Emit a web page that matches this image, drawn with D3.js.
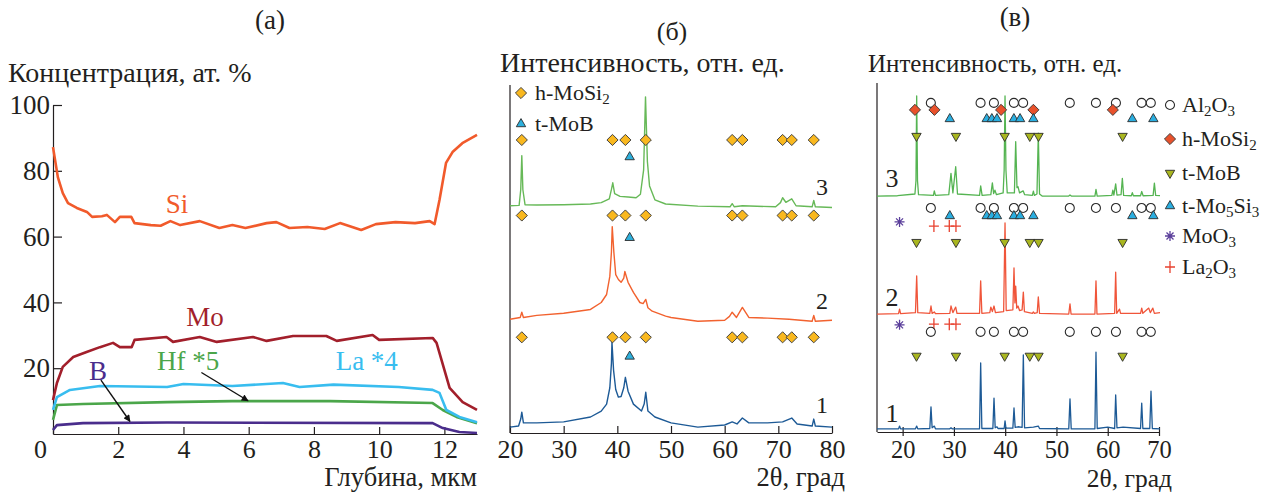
<!DOCTYPE html>
<html>
<head>
<meta charset="utf-8">
<script src="https://cdn.jsdelivr.net/npm/d3@7"></script>
<style>
  body { margin: 0; background: #fff; }
  text { font-family: "Liberation Serif", "Times New Roman", serif; fill: #231f20; }
</style>
</head>
<body>
<div id="chart"></div>
<script>
// ---- data: (а) depth profiles, [depth µm, at.%]
const profileSi = [[0,87.2],[0.15,78],[0.3,73.2],[0.46,70.2],[0.73,68.7],[1.04,67.5],[1.2,66],[1.5,66.2],[1.65,66.6],[1.9,64.4],[2.05,66],[2.4,66],[2.5,64.1],[3.0,63.5],[3.3,63.3],[3.6,64.7],[3.9,63.5],[4.5,64.7],[5.1,62.6],[5.5,63.5],[5.9,62.6],[6.55,64.1],[6.85,64.4],[7.25,62.6],[7.8,62.9],[8.33,62.3],[8.8,64.1],[9.45,62],[9.9,63.8],[10.5,64.4],[11.1,64.1],[11.55,64.7],[11.7,63.8],[11.85,71.1],[12.05,82.4],[12.25,85.7],[12.55,88.4],[13,90.9]];
const profileMo = [[0,10.3],[0.12,15.5],[0.3,20.4],[0.62,23.4],[1.03,24.9],[1.44,26.4],[1.84,27.7],[2.05,26.4],[2.41,26.4],[2.5,28.6],[3.48,29.5],[3.68,28],[4.5,29.5],[5.02,28],[6.13,29.5],[6.55,28.3],[7.36,29.8],[8.38,29.8],[8.7,28.3],[9.8,30.1],[10.0,28.6],[11.64,29.2],[11.76,27.7],[12.0,19.5],[12.16,14],[12.56,9.7],[13,7.3]];
const profileLa = [[0,7.3],[0.12,11.2],[0.52,13.4],[1.44,14.6],[3.5,14.3],[4.0,15.2],[5.5,14.6],[7.05,15.5],[7.56,14.3],[8.6,15],[10.6,14.3],[11.64,13.4],[11.85,12.5],[12.06,7.3],[12.46,5.2],[13,3.6]];
const profileHf = [[0,4.3],[0.12,8.8],[0.92,9.1],[3.5,9.7],[5.5,10.0],[8.5,10.0],[11.64,9.4],[11.95,7.3],[12.37,5.2],[13,3.3]];
const profileB = [[0,1.2],[0.12,2.7],[0.92,3.3],[3.5,3.5],[11.64,3.3],[11.95,1.8],[12.46,0.6],[13,0.3]];

// ---- data: (б) XRD patterns, [2θ, rel. units]
const xrdB1 = [[20,1.7],[21.6,2.0],[22.0,4.0],[22.2,6.0],[22.5,2.9],[25,2.9],[30,3.2],[35,4.6],[37,6.3],[38,8.3],[38.6,13],[38.9,20],[39.0,26.1],[39.3,18],[39.7,12.5],[40.2,10.3],[40.7,10.5],[41.2,13],[41.5,16],[42,12],[43,8.3],[44.5,6.3],[45.0,8.3],[45.3,11.7],[45.7,6.3],[47,4.6],[50,2.9],[55,1.7],[60,2.3],[61.4,3.2],[62.3,2.6],[63.3,4.3],[64.5,2.9],[68,2.9],[70.8,3.2],[72.5,4.3],[73.5,2.6],[76.3,2.0],[76.6,4.0],[76.9,2.0],[80,1.7]];
const xrdB2 = [[20,32.7],[21.9,33.2],[22.2,34.7],[22.5,33.2],[25,33.8],[30,34.4],[35,35.5],[37,37.5],[38,39.8],[38.6,45],[38.9,52],[39.05,59.3],[39.35,52],[39.7,45.5],[40.2,44.1],[40.7,43.3],[41.2,44.5],[41.4,46.4],[42,43.3],[43,40.4],[44.2,37.5],[44.8,37.2],[45.3,38.4],[45.7,36],[46.5,35],[49,33.6],[50,33.2],[55,32.1],[60,32.4],[60.9,33.5],[61.4,34.7],[62.2,33.2],[63.3,36.1],[64.5,33.2],[68,33.0],[72,32.7],[76.3,32.1],[76.6,33.8],[76.9,32.1],[80,32.4]];
const xrdB3 = [[20,65.3],[21.7,65.4],[22.0,69.9],[22.2,79.7],[22.4,69.9],[22.8,65.6],[25,65.5],[30,65.6],[35,65.8],[37,66.2],[38.5,67.3],[38.9,70.0],[39.15,71.9],[39.5,68.8],[40.5,68.0],[42,67.8],[43.5,67.6],[44.3,68.6],[44.9,75.6],[45.25,96.6],[45.6,78],[46.0,71],[47,67],[49,65.8],[55,65.2],[61.0,65.0],[61.4,65.9],[61.8,65.0],[63.3,65.3],[69.5,65.0],[70.4,66.2],[70.8,67.6],[71.4,66.3],[72.5,67.3],[73.3,65.3],[76.3,65.0],[76.6,66.8],[76.9,65.0],[80,64.8]];
const peaksB_MoSi2 = [22.2, 39.1, 41.5, 45.3, 61.4, 63.3, 70.8, 72.5, 76.6];
const peaksB_MoB = [42.3];

// ---- data: (в) XRD patterns, [2θ, rel. units]
const xrdV1 = [[15,0.9],[19.2,0.9],[19.4,1.7],[19.6,0.9],[22.5,0.9],[22.74,1.7],[22.95,0.9],[25.3,1],[25.53,7.2],[25.75,1.2],[26.18,1.7],[26.4,0.9],[29.2,0.9],[29.43,1.2],[29.7,0.9],[35.0,0.9],[35.22,19.8],[35.45,1.0],[37.6,1.0],[37.82,9.7],[38.05,1.2],[38.4,1.5],[38.6,1],[39.8,1],[39.97,3.2],[40.15,1.1],[41.5,1.1],[41.72,6.9],[41.95,1.3],[42.5,1.5],[43.3,1.3],[43.54,22.1],[43.78,1.2],[45.5,1.4],[46.46,1.7],[46.7,1],[52.4,0.9],[52.64,9.5],[52.88,0.9],[57.5,0.9],[57.71,22.9],[57.95,1.0],[60.0,1.4],[61.35,1.0],[61.55,10.6],[61.8,1.2],[63.0,1.4],[66.4,1.0],[66.63,8.3],[66.85,1.0],[68.2,1.0],[68.44,11.7],[68.7,1.0],[70.2,0.9]];
const xrdV2 = [[15,33.8],[19.2,33.9],[19.4,35.2],[19.6,33.9],[22.5,34.2],[22.74,44.7],[22.95,34.2],[25.3,34],[25.53,36.1],[25.75,34],[26.18,34.4],[26.4,33.9],[29.2,34],[29.43,36.1],[29.8,34.2],[30.35,35.8],[30.6,34],[35.0,34],[35.22,43.3],[35.45,34],[37.0,34.2],[37.2,35.8],[37.5,34.5],[37.82,36.1],[38.1,34.2],[39.7,34.5],[39.97,59.9],[40.2,34.8],[41.5,35],[41.72,47.0],[41.9,37],[42.05,41.8],[42.25,35.5],[42.5,36.1],[42.8,34.8],[43.3,35],[43.54,40.1],[43.75,34.5],[45.3,34],[45.5,34.4],[45.7,34],[46.25,34.2],[46.46,38.7],[46.7,34],[52.4,33.8],[52.64,36.7],[52.85,33.8],[57.5,33.8],[57.71,43.3],[57.9,33.8],[61.35,34],[61.55,45.8],[61.75,34],[62.3,35.2],[62.5,34],[66.4,34],[66.63,35.5],[66.85,34],[68.0,35.5],[68.3,34.2],[68.8,35.5],[69.1,34],[70.2,34.2]];
const xrdV3 = [[15,67.6],[19,67.7],[22.4,68.2],[22.6,72],[22.74,96.3],[22.9,72],[23.1,68],[26.0,67.8],[26.18,69.1],[26.4,67.8],[29.0,68],[29.43,74.1],[29.8,68.5],[30.35,76.0],[30.7,68.2],[35.0,67.8],[35.22,70.5],[35.5,67.8],[37.2,68],[37.5,71.4],[37.75,68.3],[38.0,69.3],[38.3,68],[39.6,68.5],[39.8,75],[39.97,96.3],[40.15,75],[40.4,68.5],[41.8,68.5],[42.05,83.2],[42.3,70],[42.5,70.3],[42.8,68.5],[43.5,69.1],[43.8,68],[45.3,67.8],[45.5,69],[45.7,67.8],[46.2,68.2],[46.46,85.6],[46.7,68.2],[47.2,67.6],[52.4,67.6],[52.64,67.9],[52.9,67.6],[57.5,67.6],[57.71,69.5],[57.95,67.6],[60.8,67.8],[61.0,69.3],[61.2,67.9],[61.55,71.1],[61.8,67.9],[62.6,68],[62.85,72.7],[63.1,67.8],[64.6,67.7],[64.8,68.6],[65,67.7],[66.4,67.7],[66.63,68.9],[66.9,67.7],[68.85,67.8],[69.1,71.3],[69.35,67.8],[70.2,67.7]];
const peaksV_Al2O3 = [25.5, 35.2, 37.8, 41.7, 43.5, 52.6, 57.7, 61.6, 66.6, 68.4];
const peaksV_MoSi2 = [22.4, 26.2, 39.2, 45.5, 61.0];
const peaksV_Mo5Si3 = [29.2, 36.4, 37.4, 38.4, 41.7, 42.9, 45.5, 64.8, 68.9];
const peaksV_MoB = [22.7, 30.4, 39.9, 44.8, 46.5, 62.9];
const peaksV_MoO3 = [19.4];
const peaksV_La2O3 = [26.1, 29.1, 30.4];

const svg = d3.select("#chart").append("svg")
    .attr("width", 1271)
    .attr("height", 494);

// marker shapes
const diamond = d3.symbol(d3.symbolSquare, 62)();
const triUp = d3.symbol(d3.symbolTriangle, 38)();
const circle = d3.symbol(d3.symbolCircle, 64)();
const plus = "M-5,0H5M0,-6V6";
const star = "M-5,0H5M0,-5V5M-3.5,-3.5L3.5,3.5M-3.5,3.5L3.5,-3.5";

function drawMarkers(g, xs, x, yPix, kind) {
    const sel = g.append("g").selectAll("path").data(xs).enter().append("path");
    sel.attr("transform", d => "translate(" + x(d) + "," + yPix + ")" + kind.rot);
    sel.attr("d", kind.d)
        .attr("fill", kind.fill)
        .attr("stroke", kind.stroke)
        .attr("stroke-width", kind.sw);
}

function styleAxis(g, size) {
    g.selectAll("text").attr("font-size", size).style("fill", "#231f20");
    g.selectAll("line, path").attr("stroke", "#231f20").attr("stroke-width", 1.2);
    g.attr("font-family", null);
}

// ================= panel (а) =================
const xA = d3.scaleLinear().domain([0, 13]).range([53, 477]);
const yA = d3.scaleLinear().domain([0, 100]).range([434, 105]);

const gAy = svg.append("g").attr("transform", "translate(" + xA(0) + ",0)")
    .call(d3.axisLeft(yA).tickValues([20, 40, 60, 80, 100]).tickSizeInner(-9).tickSizeOuter(0).tickPadding(3));
styleAxis(gAy, 27);
const gAx = svg.append("g").attr("transform", "translate(0," + yA(0) + ")")
    .call(d3.axisBottom(xA).tickValues([0, 2, 4, 6, 8, 10, 12]).tickSizeInner(-7).tickSizeOuter(0).tickPadding(6));
styleAxis(gAx, 26);
gAx.selectAll(".tick text").filter(d => d === 0).attr("x", -13);

const lineA = d3.line().x(d => xA(d[0])).y(d => yA(d[1]));
const profiles = [
    {data: profileB, color: "#4a2d8c"},
    {data: profileHf, color: "#4ba64a"},
    {data: profileLa, color: "#38bdef"},
    {data: profileMo, color: "#a21f2b"},
    {data: profileSi, color: "#f15a2b"}
];
profiles.forEach(p => {
    svg.append("path").datum(p.data)
        .attr("d", lineA)
        .attr("fill", "none")
        .attr("stroke", p.color)
        .attr("stroke-width", 2.6)
        .attr("stroke-linejoin", "round");
});

// curve labels
const labelsA = [
    {t: "Si", x: 3.8, y: 67.2, c: "#f15a2b"},
    {t: "Mo", x: 4.66, y: 32.8, c: "#a21f2b"},
    {t: "Hf *5", x: 4.14, y: 19.5, c: "#4ba64a"},
    {t: "La *4", x: 9.62, y: 19.5, c: "#38bdef"},
    {t: "B", x: 1.38, y: 16.4, c: "#4a2d8c"}
];
svg.selectAll(".labA").data(labelsA).enter().append("text")
    .attr("x", d => xA(d.x)).attr("y", d => yA(d.y))
    .attr("text-anchor", "middle")
    .attr("font-size", 27)
    .style("fill", d => d.c)
    .text(d => d.t);

svg.append("defs").append("marker")
    .attr("id", "arr").attr("viewBox", "0 0 10 10")
    .attr("refX", 9).attr("refY", 5)
    .attr("markerWidth", 9).attr("markerHeight", 7)
    .attr("markerUnits", "userSpaceOnUse")
    .attr("orient", "auto")
    .append("path").attr("d", "M0,0L10,5L0,10z").attr("fill", "#111");
const arrows = [[[1.47, 16.4], [2.36, 3.8]], [[4.55, 18.7], [5.98, 10.1]]];
arrows.forEach(a => {
    svg.append("line")
        .attr("x1", xA(a[0][0])).attr("y1", yA(a[0][1]))
        .attr("x2", xA(a[1][0])).attr("y2", yA(a[1][1]))
        .attr("stroke", "#111").attr("stroke-width", 1.4)
        .attr("marker-end", "url(#arr)");
});

svg.append("text").attr("x", 8).attr("y", 82).attr("font-size", 28).text("Концентрация, ат. %");
svg.append("text").attr("x", 477).attr("y", 486).attr("text-anchor", "end").attr("font-size", 26.5).text("Глубина, мкм");
svg.append("text").attr("x", 270).attr("y", 29).attr("text-anchor", "middle").attr("font-size", 27).text("(а)");

// ================= panel (б) =================
const xB = d3.scaleLinear().domain([20, 80]).range([510, 832]);
const yB = d3.scaleLinear().domain([0, 100]).range([433, 85]);

const gBx = svg.append("g").attr("transform", "translate(0," + yB(0) + ")")
    .call(d3.axisBottom(xB).tickValues(d3.range(20, 81, 10)).tickSizeInner(-7).tickSizeOuter(0).tickPadding(7));
styleAxis(gBx, 26);
svg.append("line")
    .attr("x1", xB(20)).attr("x2", xB(20))
    .attr("y1", yB(0)).attr("y2", yB(100))
    .attr("stroke", "#231f20").attr("stroke-width", 1.2);

const lineB = d3.line().x(d => xB(d[0])).y(d => yB(d[1]));
[[xrdB1, "#1d5a96"], [xrdB2, "#f2622f"], [xrdB3, "#67b958"]].forEach(s => {
    svg.append("path").datum(s[0]).attr("d", lineB)
        .attr("fill", "none").attr("stroke", s[1]).attr("stroke-width", 1.4)
        .attr("stroke-linejoin", "round");
});

const kDiaB = {d: diamond, rot: " rotate(45)", fill: "#f9b81f", stroke: "#3b3b3b", sw: 0.9};
const kTriB = {d: triUp, rot: "", fill: "#2db0dd", stroke: "#2b2b2b", sw: 0.9};
[84.2, 62.5, 27.5].forEach(v => drawMarkers(svg, peaksB_MoSi2, xB, yB(v), kDiaB));
[79.3, 56.1, 22.0].forEach(v => drawMarkers(svg, peaksB_MoB, xB, yB(v), kTriB));

// legend (б)
drawMarkers(svg, [22.05], xB, 93, kDiaB);
drawMarkers(svg, [22.05], xB, 124, kTriB);
const tB1 = svg.append("text").attr("x", 535).attr("y", 100).attr("font-size", 22);
tB1.append("tspan").text("h-MoSi");
tB1.append("tspan").attr("font-size", 15).attr("dy", 4).text("2");
svg.append("text").attr("x", 535).attr("y", 131).attr("font-size", 22).text("t-MoB");

[["3", 195], ["2", 309], ["1", 413]].forEach(l => {
    svg.append("text").attr("x", 822).attr("y", l[1]).attr("text-anchor", "middle").attr("font-size", 24).text(l[0]);
});
svg.append("text").attr("x", 500).attr("y", 72).attr("font-size", 28).text("Интенсивность, отн. ед.");
svg.append("text").attr("x", 845).attr("y", 486).attr("text-anchor", "end").attr("font-size", 26.5).text("2θ, град");
svg.append("text").attr("x", 672).attr("y", 40).attr("text-anchor", "middle").attr("font-size", 26).text("(б)");

// ================= panel (в) =================
const xC = d3.scaleLinear().domain([15, 70]).range([877, 1159]);
const yC = d3.scaleLinear().domain([0, 100]).range([432, 83]);

const gCx = svg.append("g").attr("transform", "translate(0," + yC(0) + ")")
    .call(d3.axisBottom(xC).tickValues(d3.range(20, 71, 10)).tickSizeInner(4).tickSizeOuter(0).tickPadding(5));
styleAxis(gCx, 24.5);
gCx.selectAll(".tick line").attr("y1", -5);
svg.append("line")
    .attr("x1", xC(15)).attr("x2", xC(15))
    .attr("y1", yC(0)).attr("y2", yC(100))
    .attr("stroke", "#231f20").attr("stroke-width", 1.2);

const lineC = d3.line().x(d => xC(d[0])).y(d => yC(d[1]));
[[xrdV1, "#1d5a96"], [xrdV2, "#f0553a"], [xrdV3, "#55b452"]].forEach(s => {
    svg.append("path").datum(s[0]).attr("d", lineC)
        .attr("fill", "none").attr("stroke", s[1]).attr("stroke-width", 1.3)
        .attr("stroke-linejoin", "round");
});

const kCirc = {d: circle, rot: "", fill: "#fff", stroke: "#2b2b2b", sw: 1.1};
const kDiaV = {d: diamond, rot: " rotate(45)", fill: "#e8512b", stroke: "#3b3b3b", sw: 0.9};
const kTriV = {d: triUp, rot: "", fill: "#2aaee0", stroke: "#2b2b2b", sw: 0.9};
const kDownV = {d: triUp, rot: " rotate(180)", fill: "#a9b61f", stroke: "#2b2b2b", sw: 0.9};
const kStar = {d: star, rot: "", fill: "none", stroke: "#5b3f9b", sw: 1.3};
const kPlus = {d: plus, rot: "", fill: "none", stroke: "#e8412f", sw: 1.3};

// group above pattern 3
drawMarkers(svg, peaksV_Al2O3, xC, yC(94.3), kCirc);
drawMarkers(svg, peaksV_MoSi2, xC, yC(92.3), kDiaV);
drawMarkers(svg, peaksV_Mo5Si3, xC, yC(89.7), kTriV);
drawMarkers(svg, peaksV_MoB, xC, yC(84.8), kDownV);
// group above pattern 2
drawMarkers(svg, peaksV_Al2O3, xC, yC(64.2), kCirc);
drawMarkers(svg, peaksV_Mo5Si3, xC, yC(61.9), kTriV);
drawMarkers(svg, peaksV_MoO3, xC, yC(60.2), kStar);
drawMarkers(svg, peaksV_La2O3, xC, yC(59.0), kPlus);
drawMarkers(svg, peaksV_MoB, xC, yC(54.4), kDownV);
// group above pattern 1
drawMarkers(svg, peaksV_MoO3, xC, yC(30.7), kStar);
drawMarkers(svg, peaksV_La2O3, xC, yC(30.9), kPlus);
drawMarkers(svg, peaksV_Al2O3, xC, yC(28.7), kCirc);
drawMarkers(svg, peaksV_MoB, xC, yC(21.8), kDownV);

// legend (в)
const legendV = [
    {k: kCirc, parts: [["Al", 0], ["2", 1], ["O", 0], ["3", 1]]},
    {k: kDiaV, parts: [["h-MoSi", 0], ["2", 1]]},
    {k: kDownV, parts: [["t-MoB", 0]]},
    {k: kTriV, parts: [["t-Mo", 0], ["5", 1], ["Si", 0], ["3", 1]]},
    {k: kStar, parts: [["MoO", 0], ["3", 1]]},
    {k: kPlus, parts: [["La", 0], ["2", 1], ["O", 0], ["3", 1]]}
];
const rowY = [105, 139, 173, 206, 236, 267];
legendV.forEach((l, i) => {
    svg.append("path").attr("d", l.k.d)
        .attr("transform", "translate(1170," + rowY[i] + ")" + l.k.rot)
        .attr("fill", l.k.fill).attr("stroke", l.k.stroke).attr("stroke-width", l.k.sw);
    const t = svg.append("text").attr("x", 1182).attr("y", rowY[i] + 7).attr("font-size", 22);
    let low = false;
    l.parts.forEach(p => {
        const ts = t.append("tspan").text(p[0]);
        if (p[1] && !low) { ts.attr("font-size", 15).attr("dy", 4); low = true; }
        else if (p[1]) { ts.attr("font-size", 15); }
        else if (low) { ts.attr("dy", -4); low = false; }
    });
});

[["3", 187], ["2", 306], ["1", 422]].forEach(l => {
    svg.append("text").attr("x", 892).attr("y", l[1]).attr("text-anchor", "middle").attr("font-size", 26).text(l[0]);
});
svg.append("text").attr("x", 868).attr("y", 72).attr("font-size", 25).text("Интенсивность, отн. ед.");
svg.append("text").attr("x", 1172).attr("y", 487).attr("text-anchor", "end").attr("font-size", 25.5).text("2θ, град");
svg.append("text").attr("x", 1015).attr("y", 26).attr("text-anchor", "middle").attr("font-size", 27).text("(в)");
</script>
</body>
</html>
